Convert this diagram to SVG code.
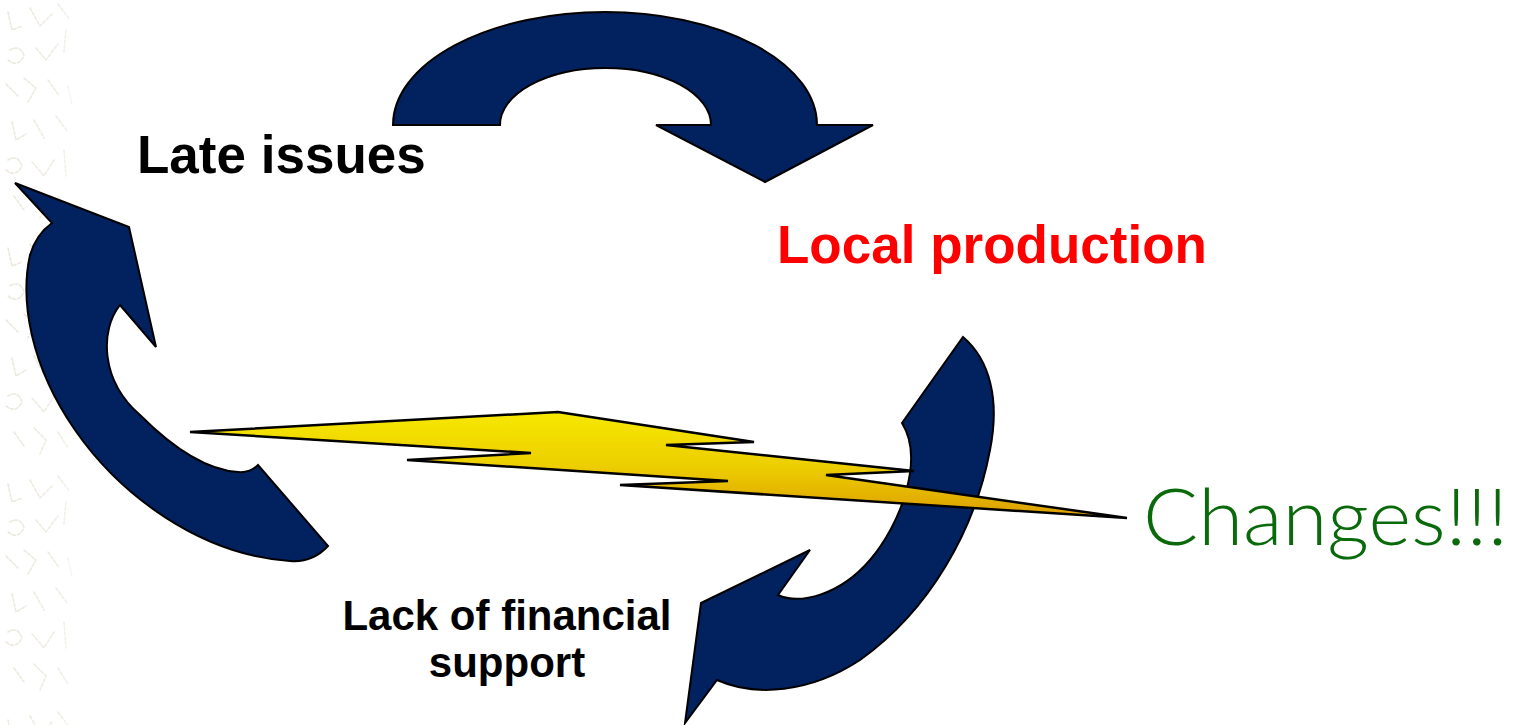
<svg xmlns="http://www.w3.org/2000/svg" width="1522" height="725" viewBox="0 0 1522 725">
<defs>
<style>
.arrow{fill:#02215f;stroke:#000;stroke-width:2;stroke-linejoin:miter}
.bolt{fill:url(#boltGrad);stroke:#000;stroke-width:2.5;stroke-linejoin:miter}
.lbl{font-family:"Liberation Sans",Arial,sans-serif;font-weight:bold}
.deco{fill:none;stroke:#ebe7db;stroke-width:1.6;stroke-linecap:round;stroke-dasharray:3 2}
</style>
<linearGradient id="boltGrad" x1="0" y1="0" x2="0" y2="1">
<stop offset="0" stop-color="#f6e800"/>
<stop offset="0.5" stop-color="#edcf00"/>
<stop offset="1" stop-color="#dc9e00"/>
</linearGradient>
<pattern id="bg" width="80" height="236" patternUnits="userSpaceOnUse">
<path class="deco" d="M8,12 L12,30 L22,26 M30,8 L40,26 L52,14 M58,4 L70,20 M66,30 L64,52 M10,50 Q20,44 24,56 Q18,68 8,60 M36,48 L46,60 L58,44 M6,84 L18,96 M24,78 L36,88 L28,102 M48,80 L58,94 M68,86 L72,104 M12,122 L16,140 L26,134 M34,120 L44,138 M56,116 L68,132 M8,160 Q18,154 22,166 Q16,178 6,170 M32,162 L44,176 L54,160 M64,150 L66,176 M14,196 L24,210 M34,192 L46,204 L40,218 M58,196 L68,212"/>
</pattern>
<linearGradient id="fade" x1="0" y1="0" x2="1" y2="0">
<stop offset="0" stop-color="#fff" stop-opacity="0"/>
<stop offset="0.75" stop-color="#fff" stop-opacity="0.25"/>
<stop offset="1" stop-color="#fff" stop-opacity="1"/>
</linearGradient>
</defs>
<rect width="1522" height="725" fill="#fff"/>
<g id="background">
<rect x="0" y="0" width="82" height="725" fill="url(#bg)"/>
<rect x="0" y="0" width="82" height="725" fill="url(#fade)"/>
</g>
<g id="connectors">
<path id="arrow-top" class="arrow" d="M393,125 A212,113 0 0 1 817,125 L873,125 L765,182 L656,125 L711,125 A105.5,57 0 0 0 500,125 Z"/>
<path id="arrow-left" class="arrow" d="M15,183 L129,227 L156,347 L120,305 C100,330 100,380 140,415 C170,445 205,470 238,472 C248,473 254,469 258,465 L328,546 C315,560 302,562 290,561 C200,555 120,495 75,430 C30,365 20,300 30,255 C35,238 45,228 52,223 Z"/>
<path id="arrow-right" class="arrow" d="M963,337 C990,360 1000,400 990,450 C975,530 930,610 860,660 C810,693 755,697 717,680 L685,723 L701,603 L810,550 L778,595 C800,605 840,595 870,560 C900,525 925,460 902,423 Z"/>
</g>
<g id="bolt">
<path class="bolt" d="M190,432 L558,412 L754,442 L666,445 L914,471 L826,475 L1127,518 L620,485 L728,481 L407,460 L531,453 Z"/>
</g>
<g id="node-late">
<text class="lbl" x="137" y="173" font-size="53" fill="#000">Late issues</text>
</g>
<g id="node-local">
<text class="lbl" x="777" y="263" font-size="53" fill="#ff0000">Local production</text>
</g>
<g id="node-lack">
<text class="lbl" font-size="42" fill="#000" text-anchor="middle"><tspan x="507" y="630">Lack of financial</tspan><tspan x="507" y="677">support</tspan></text>
</g>
<g id="node-changes">
<text x="1143" y="545" font-family="Lato,'Noto Sans',sans-serif" font-weight="300" font-size="78" fill="#0a690a" textLength="365" lengthAdjust="spacingAndGlyphs">Changes!!!</text>
</g>
</svg>
